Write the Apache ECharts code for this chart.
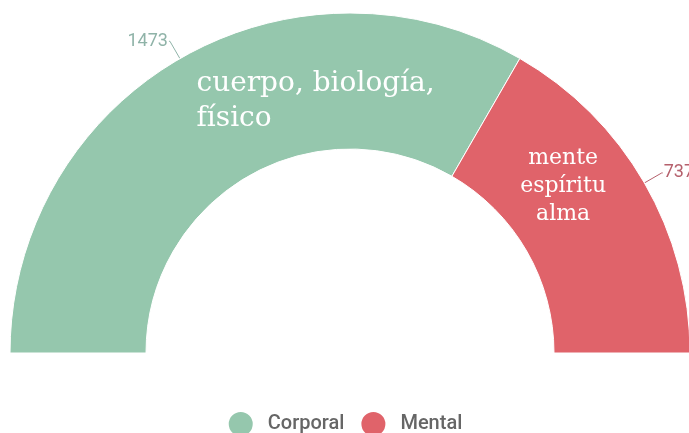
<!DOCTYPE html>
<html>
<head>
<meta charset="utf-8">
<script src="https://cdn.jsdelivr.net/npm/echarts@6/dist/echarts.min.js"></script>
<style>
  html, body { margin: 0; padding: 0; background: #fff; }
  #chart { width: 689px; height: 433px; }
</style>
</head>
<body>
<div id="chart"></div>
<script>
// data
var categories = ['Corporal', 'Mental']
var values = [1473, 737]
var descriptions = [['cuerpo, biología,', 'físico'], ['mente', 'espíritu', 'alma']]
var colors = ['#95c7ad', '#e0636a']
var valueLabelColors = ['#8fb3a8', '#b5606c']

var chart = echarts.init(document.getElementById('chart'))

var mainData = categories.map(function (name, i) {
  return {
    name: name,
    value: values[i],
    itemStyle: { color: colors[i] },
    label: { color: valueLabelColors[i] },
    labelLine: { lineStyle: { color: valueLabelColors[i] } }
  }
})

// inner text blocks, placed from the slice centre and nudged
var textStyles = [
  { fontSize: 28, lineHeight: 35, align: 'left', width: 240, offset: [104, -14] },
  { fontSize: 22, lineHeight: 28, align: 'center', width: 100, offset: [-25, -29] }
]
var textData = categories.map(function (name, i) {
  var s = textStyles[i]
  return {
    name: name,
    value: values[i],
    label: {
      formatter: descriptions[i].map(function (t) { return '{t|' + t + '}' }).join('\n'),
      width: s.width,
      offset: s.offset,
      rich: {
        t: {
          color: '#fff',
          fontFamily: 'DejaVu Serif',
          fontSize: s.fontSize,
          lineHeight: s.lineHeight,
          align: s.align
        }
      }
    }
  }
})

chart.setOption({
  animation: false,
  legend: {
    data: categories,
    top: 410,
    left: 'center',
    padding: 0,
    icon: 'circle',
    itemWidth: 26,
    itemHeight: 26,
    itemGap: 15,
    textStyle: { fontFamily: 'Roboto', fontSize: 20, fontWeight: 500, color: '#666', padding: [0, 0, 0, 9] }
  },
  series: [
    {
      type: 'pie',
      center: [350, 353],
      radius: [204, 340],
      startAngle: 180,
      endAngle: 0,
      clockwise: true,
      itemStyle: { borderColor: '#fff', borderWidth: 1 },
      label: {
        show: true,
        position: 'outside',
        formatter: '{c}',
        fontFamily: 'Roboto',
        fontSize: 18,
        overflow: 'none',
        distanceToLabelLine: 1
      },
      labelLine: { show: true, length: 20, length2: 1 },
      emphasis: { disabled: true },
      data: mainData
    },
    {
      type: 'pie',
      silent: true,
      center: [350, 353],
      radius: [204, 340],
      startAngle: 180,
      endAngle: 0,
      clockwise: true,
      itemStyle: { color: 'transparent' },
      label: {
        show: true,
        position: 'inside',
        overflow: 'none'
      },
      labelLine: { show: false },
      data: textData
    }
  ]
})

window.addEventListener('resize', function () {
  chart.resize()
})
</script>
</body>
</html>
